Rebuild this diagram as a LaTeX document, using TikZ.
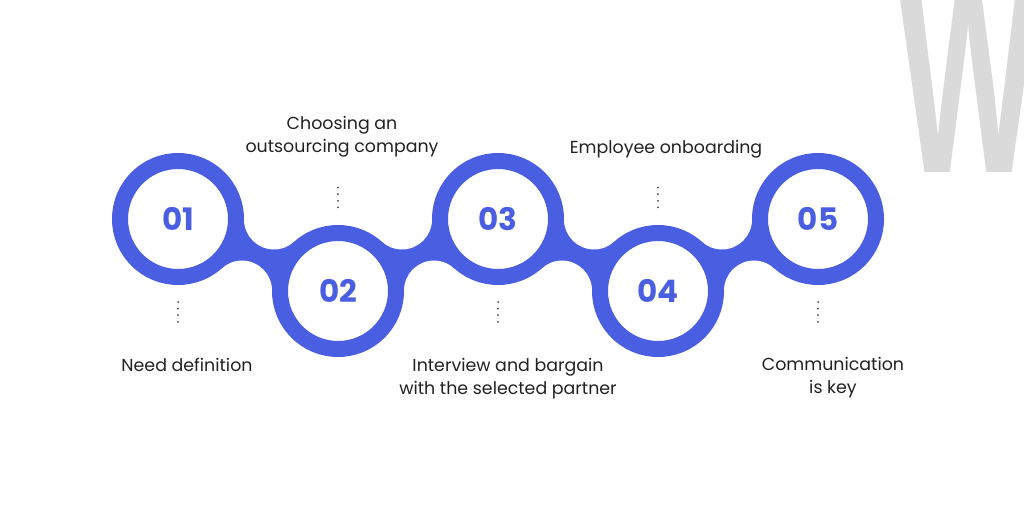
\documentclass[tikz,border=0pt]{standalone}
\usepackage{fontspec}
\setmainfont{Poppins}
\newfontfamily\wmfont{Liberation Sans}
\usetikzlibrary{calc,backgrounds}
\definecolor{ringblue}{RGB}{74,94,226}
\definecolor{txt}{RGB}{34,34,34}
\definecolor{wgray}{RGB}{218,218,218}
\begin{document}
\begin{tikzpicture}[x=1pt,y=-1pt,
  ring/.style={circle, draw=ringblue, line width=16pt, fill=white, minimum size=116pt, inner sep=0pt, font=\fontsize{31}{33}\selectfont\bfseries, text=ringblue},
  lbl/.style={align=center, font=\fontsize{17.4}{23}\selectfont, text=txt, inner sep=0pt},
  dots/.style={draw=txt!85, line width=2pt, line cap=round, dash pattern=on 0pt off 6.6pt},
  neck/.style={fill=ringblue},
  fillet/.style={fill=white}]
\useasboundingbox (0,0) rectangle (1024,513);
% watermark letter
\begin{scope}
\clip (0,0) rectangle (1024,513);
\node[anchor=base west, inner sep=0pt, text=wgray, font=\fontsize{270}{270}\selectfont\wmfont\bfseries, xscale=0.55] (wm) at (898,172) {W};
\end{scope}
% rings
\node[ring] (n1) at (178,219) {01};
\node[ring] (n2) at (338,291) {02};
\node[ring] (n3) at (498,219) {03};
\node[ring] (n4) at (658,291) {04};
\node[ring] (n5) at (818,219) {05};
% necks between rings
\begin{scope}[on background layer]
\fill[white] (0,0) rectangle (1024,513);
\foreach \a/\b in {n1/n2, n2/n3, n3/n4, n4/n5} {
  \coordinate (m) at ($(\a.center)!0.5!(\b.center)$);
  \coordinate (fa) at ($(m)!39pt!90:(\b.center)$);
  \coordinate (fb) at ($(m)!39pt!-90:(\b.center)$);
  \fill[neck] (\a.center) -- (fa) -- (\b.center) -- (fb) -- cycle;
  \fill[fillet] (fa) circle (30);
  \fill[fillet] (fb) circle (30);
}
\end{scope}
% dotted leaders
\foreach \n in {n1,n3,n5} {
  \coordinate (\n d1) at ($(\n.center)+(0,83)$);
  \coordinate (\n d2) at ($(\n.center)+(0,103.4)$);
  \draw[dots] (\n d1) -- (\n d2);
}
\foreach \n in {n2,n4} {
  \coordinate (\n d1) at ($(\n.center)+(0,-103.4)$);
  \coordinate (\n d2) at ($(\n.center)+(0,-83)$);
  \draw[dots] (\n d1) -- (\n d2);
}
% labels
\node[lbl] (t1) at (187,365) {Need definition};
\node[lbl] (t2) at (342,137) {Choosing an\\outsourcing company};
\node[lbl] (t3) at (508,379) {Interview and bargain\\with the selected partner};
\node[lbl] (t4) at (666,149) {Employee onboarding};
\node[lbl] (t5) at (833,378) {Communication\\is key};
\end{tikzpicture}
\end{document}
